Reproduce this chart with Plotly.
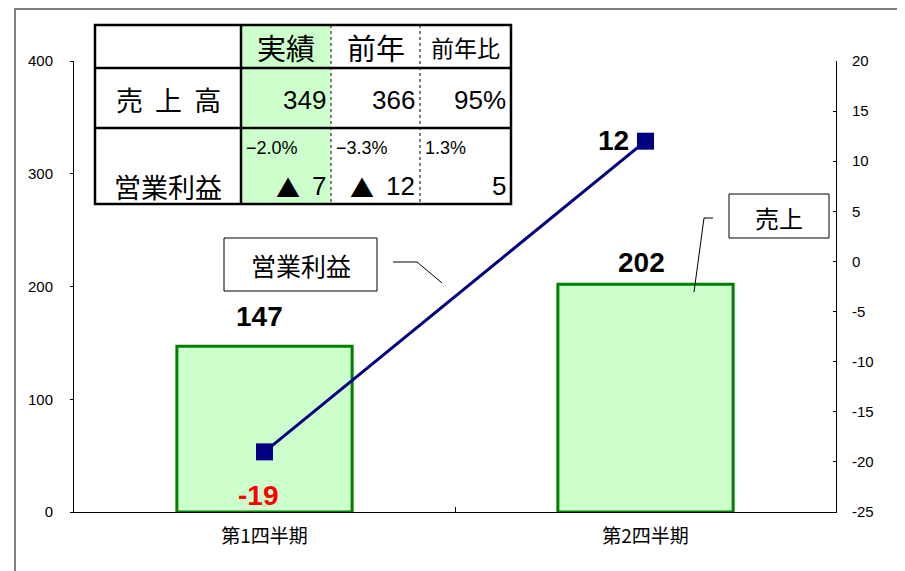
import plotly.graph_objects as go

# ---------------- data ----------------
categories = ["第1四半期", "第2四半期"]
sales = [147, 202]            # 売上 (left axis)
op_profit = [-19, 12]         # 営業利益 (right axis)

table_cols = ["実績", "前年", "前年比"]
table_rows = ["売 上 高", "営業利益"]
sales_row = ["349", "366", "95%"]
profit_marks = ["▲", "▲", ""]
profit_row = ["7", "12", "5"]
profit_rate_row = ["−2.0%", "−3.3%", "1.3%"]

y_left_ticks = [0, 100, 200, 300, 400]
y_right_ticks = [-25, -20, -15, -10, -5, 0, 5, 10, 15, 20]

# ---------------- geometry helpers (screen pixel -> paper) ----------------
OFF = 8                      # page body margin
W, H = 905 - OFF, 571 - OFF
L, R, T, B = 74, 836, 61, 512   # plot area on screen


def px(x):
    return (x - L) / (R - L)


def py(y):
    return (B - y) / (B - T)


JP = "Noto Sans CJK JP"
NUM = "Liberation Sans, Arial"

fig = go.Figure()
fig.add_trace(go.Bar(
    x=categories, y=sales, width=0.46,
    marker=dict(color="#CCFFCC", line=dict(color="#008000", width=3)),
    showlegend=False, hoverinfo="skip"))
fig.add_trace(go.Scatter(
    x=categories, y=op_profit, yaxis="y2", mode="lines+markers",
    line=dict(color="#000080", width=3),
    marker=dict(symbol="square", size=17, color="#000080"),
    showlegend=False, hoverinfo="skip"))

shapes = []
annotations = []

# outer gray frame
shapes.append(dict(type="rect", xref="paper", yref="paper",
                   x0=px(15), x1=px(930), y0=py(9), y1=py(600),
                   line=dict(color="#808080", width=2), fillcolor="rgba(0,0,0,0)",
                   layer="below"))

# ---------------- table ----------------
xs = [95, 241, 331, 420, 511]
ys = [25, 68, 128, 204]
shapes.append(dict(type="rect", xref="paper", yref="paper",
                   x0=px(xs[0]), x1=px(xs[-1]), y0=py(ys[0]), y1=py(ys[-1]),
                   fillcolor="white", line=dict(width=0), layer="above"))
shapes.append(dict(type="rect", xref="paper", yref="paper",
                   x0=px(xs[1]), x1=px(xs[2]), y0=py(ys[0]), y1=py(ys[-1]),
                   fillcolor="#CCFFCC", line=dict(width=0), layer="above"))
for xv in xs[2:4]:
    shapes.append(dict(type="line", xref="paper", yref="paper",
                       x0=px(xv), x1=px(xv), y0=py(ys[0]), y1=py(ys[-1]),
                       line=dict(color="#808080", width=2, dash="dot"), layer="above"))
for yv in ys[1:3]:
    shapes.append(dict(type="line", xref="paper", yref="paper",
                       x0=px(xs[0]), x1=px(xs[-1]), y0=py(yv), y1=py(yv),
                       line=dict(color="black", width=2.5), layer="above"))
shapes.append(dict(type="line", xref="paper", yref="paper",
                   x0=px(xs[1]), x1=px(xs[1]), y0=py(ys[0]), y1=py(ys[-1]),
                   line=dict(color="black", width=2.5), layer="above"))
shapes.append(dict(type="rect", xref="paper", yref="paper",
                   x0=px(xs[0]), x1=px(xs[-1]), y0=py(ys[0]), y1=py(ys[-1]),
                   fillcolor="rgba(0,0,0,0)", line=dict(color="black", width=2.5),
                   layer="above"))


def txt(x, y, s, size, family=JP, xanchor="center", yanchor="middle",
        color="black", bold=False):
    if bold:
        s = "<b>" + s + "</b>"
    annotations.append(dict(xref="paper", yref="paper", x=px(x), y=py(y), text=s,
                            showarrow=False, xanchor=xanchor, yanchor=yanchor,
                            font=dict(family=family, size=size, color=color)))


# header
header_sizes = [29, 29, 23]
for i, c in enumerate(table_cols):
    txt((xs[i + 1] + xs[i + 2]) / 2, 47, c, header_sizes[i])
# row labels
txt((xs[0] + xs[1]) / 2, 100, table_rows[0].replace(" ", "&nbsp;&nbsp;"), 27)
txt((xs[0] + xs[1]) / 2, 186, table_rows[1], 27)
# sales row
for i, v in enumerate(sales_row):
    txt(xs[i + 2] - 3, 100, v, 26, family=NUM, xanchor="right")
# profit row
for i, v in enumerate(profit_rate_row):
    txt(xs[i + 1] + 3, 148, v, 18, family=NUM, xanchor="left")
for i, (m, v) in enumerate(zip(profit_marks, profit_row)):
    txt(xs[i + 2] - 3, 186, v, 26, family=NUM, xanchor="right")
    if m:
        digits_w = 14.5 * len(v)
        txt(xs[i + 2] - 3 - digits_w - 12, 186, m, 24, family=JP, xanchor="right")

# ---------------- callouts ----------------
shapes.append(dict(type="rect", xref="paper", yref="paper",
                   x0=px(224), x1=px(377), y0=py(238), y1=py(291),
                   fillcolor="white", line=dict(color="black", width=1), layer="above"))
txt(300.5, 265, "営業利益", 25)
shapes.append(dict(type="path", xref="paper", yref="paper",
                   path=f"M {px(393)},{py(262)} L {px(417)},{py(262)} L {px(442)},{py(283)}",
                   line=dict(color="black", width=1), layer="above"))

shapes.append(dict(type="rect", xref="paper", yref="paper",
                   x0=px(729), x1=px(829), y0=py(194), y1=py(238),
                   fillcolor="white", line=dict(color="black", width=1), layer="above"))
txt(779, 217, "売上", 24)
shapes.append(dict(type="path", xref="paper", yref="paper",
                   path=f"M {px(713)},{py(218)} L {px(704)},{py(218)} L {px(694)},{py(292)}",
                   line=dict(color="black", width=1), layer="above"))

# ---------------- data labels ----------------
bar_label_shift = [(-5, 30), (-4, 22)]
for c, v, (dx, dy) in zip(categories, sales, bar_label_shift):
    annotations.append(dict(x=c, y=v, xref="x", yref="y", text=f"<b>{v}</b>",
                            showarrow=False, xshift=dx, yshift=dy,
                            font=dict(family=NUM, size=28, color="black")))
annotations.append(dict(x=categories[0], y=op_profit[0], xref="x", yref="y2",
                        text=f"<b>{op_profit[0]}</b>", showarrow=False,
                        xshift=-7, yshift=-44,
                        font=dict(family=NUM, size=28, color="#FF0000")))
annotations.append(dict(x=categories[1], y=op_profit[1], xref="x", yref="y2",
                        text=f"<b>{op_profit[1]}</b>", showarrow=False,
                        xshift=-32, yshift=1,
                        font=dict(family=NUM, size=28, color="black")))

fig.update_layout(
    width=W, height=H,
    margin=dict(l=L - OFF, r=W - (R - OFF), t=T - OFF, b=H - (B - OFF), autoexpand=False),
    paper_bgcolor="white", plot_bgcolor="white",
    showlegend=False,
    xaxis=dict(type="category", range=[-0.5, 1.5], showline=True, linecolor="black",
               linewidth=1, ticks="inside", ticklen=5, tickson="boundaries",
               tickcolor="black", showgrid=False, zeroline=False,
               tickfont=dict(family=JP, size=19, color="black"),
               ticklabelstandoff=7, automargin=False),
    yaxis=dict(range=[0, 400], tickvals=y_left_ticks,
               ticktext=[str(v) for v in y_left_ticks], showline=True,
               linecolor="black", linewidth=1, ticks="outside", ticklen=3,
               tickcolor="black", showgrid=False, zeroline=False,
               tickfont=dict(family=NUM, size=15, color="black"),
               ticklabelstandoff=14, automargin=False),
    yaxis2=dict(range=[-25, 20], tickvals=y_right_ticks,
                ticktext=[str(v) for v in y_right_ticks], overlaying="y", side="right",
                showline=True, linecolor="black", linewidth=1, ticks="inside",
                ticklen=3, tickcolor="black", showgrid=False, zeroline=False,
                tickfont=dict(family=NUM, size=15, color="black"),
                ticklabelstandoff=12, automargin=False),
    shapes=shapes, annotations=annotations,
)

fig.write_html("out.html")
